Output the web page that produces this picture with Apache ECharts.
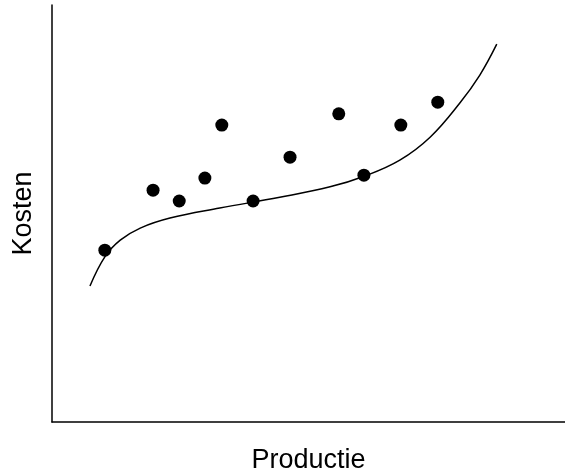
<!DOCTYPE html>
<html>
<head>
<meta charset="utf-8">
<script src="https://cdn.jsdelivr.net/npm/echarts@6/dist/echarts.min.js"></script>
<style>html,body{margin:0;padding:0;background:#fff}#c{width:565px;height:471px}</style>
</head>
<body>
<div id="c"></div>
<script>
// scatter observations (productie, kosten)
const pointX = [10.3, 19.7, 24.8, 29.8, 33.1, 39.2, 46.4, 55.9, 60.8, 68.0, 75.2];
const pointY = [41.2, 55.6, 53.0, 58.5, 71.2, 53.0, 63.5, 73.9, 59.2, 71.2, 76.7];
// cost curve
const curveX = [7.4, 10.3, 13.3, 17.2, 23.0, 32.7, 44.4, 54.2, 61.0, 67.8, 73.7, 79.5, 83.4, 86.7];
const curveY = [32.6, 39.6, 43.6, 46.5, 48.9, 51.3, 53.9, 56.4, 59.0, 62.8, 68.3, 76.5, 83.2, 90.6];

const chart = echarts.init(document.getElementById('c'));
const axisCommon = {
  type: 'value', min: 0, max: 100,
  axisLine: { show: true, lineStyle: { color: '#000', width: 1.5 } },
  axisTick: { show: false }, axisLabel: { show: false }, splitLine: { show: false },
  nameLocation: 'middle',
  nameTextStyle: { color: '#000', fontSize: 27, fontFamily: 'Liberation Sans' }
};
chart.setOption({
  backgroundColor: '#fff',
  animation: false,
  grid: { left: 52, right: 0, top: 5, bottom: 49, containLabel: false, outerBoundsMode: 'none' },
  xAxis: Object.assign({}, axisCommon, { name: 'Productie', nameGap: 25 }),
  yAxis: Object.assign({}, axisCommon, { name: 'Kosten', nameGap: 15 }),
  series: [{
    type: 'line',
    data: curveX.map((x, i) => [x, curveY[i]]),
    smooth: 0.4, showSymbol: false,
    lineStyle: { color: '#000', width: 1.5 }
  }, {
    type: 'scatter',
    data: pointX.map((x, i) => [x, pointY[i]]),
    symbolSize: 13,
    itemStyle: { color: '#000', opacity: 1 }
  }]
});
</script>
</body>
</html>
